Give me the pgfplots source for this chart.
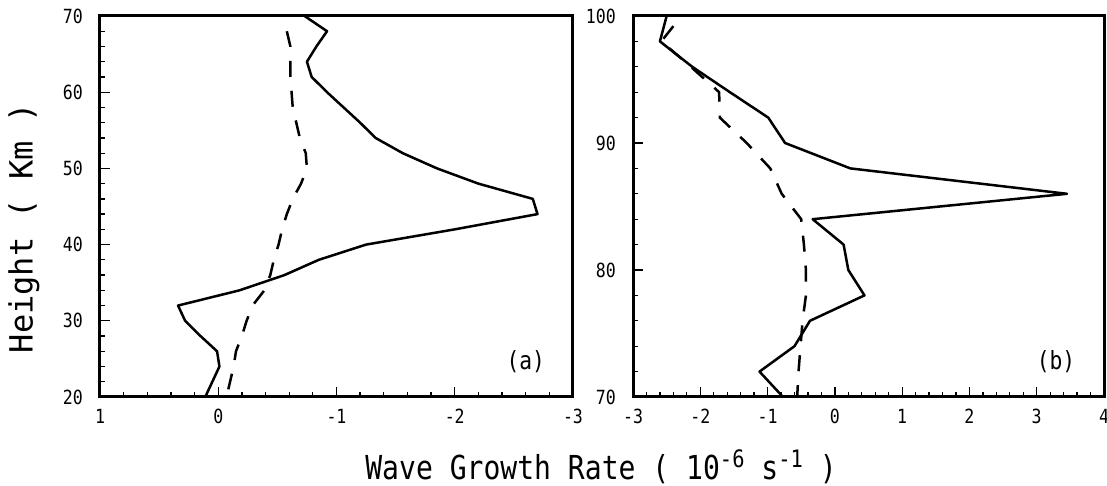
\documentclass[border=0pt]{standalone}
\usepackage{fontspec}
\setmainfont{DejaVu Sans Mono}[FakeStretch=0.85]
\newfontfamily\vfont{DejaVu Sans Mono}
\usepackage{pgfplots}
\pgfplotsset{compat=1.18}

\newcommand\supr[1]{\raisebox{12pt}{\fontsize{24}{24}\selectfont #1}}

\pgfplotsset{
  panel/.style={
    scale only axis, height=381pt,
    axis line style={line width=3pt},
    tick align=inside, xtick pos=bottom, ytick pos=left,
    major tick length=10pt, minor tick length=5pt,
    tick style={line width=1.3pt, black},
    minor tick num=4,
    /pgf/number format/assume math mode=true,
    ticklabel style={font=\fontsize{19.5}{19.5}\selectfont, inner sep=0pt},
    xticklabel style={anchor=north, yshift=-12pt},
    yticklabel style={anchor=east, xshift=-17pt},
  },
  solid line/.style={black, line width=2.5pt, no marks, line join=round},
  dash line/.style={black, line width=2.5pt, no marks, dash pattern=on 16pt off 14pt},
}

\begin{document}
\begin{tikzpicture}
\useasboundingbox (-100pt,-89pt) rectangle (1007pt,397pt);

% panel (a)
\begin{axis}[panel, at={(0,0)}, width=473pt,
  x dir=reverse, xmin=-3, xmax=1, ymin=20, ymax=70,
  xtick={-3,-2,-1,0,1}, ytick={20,30,40,50,60,70}]
\addplot[solid line] table {
X Y
-0.73 70
-0.92 68
-0.83 66
-0.75 64
-0.79 62
-0.92 60
-1.06 58
-1.20 56
-1.33 54
-1.56 52
-1.85 50
-2.20 48
-2.66 46
-2.70 44
-2.00 42
-1.25 40
-0.85 38
-0.56 36
-0.18 34
0.34 32
0.28 30
0.15 28
0.01 26
-0.01 24
0.05 22
0.11 20
};
\addplot[dash line] table {
X Y
-0.58 68
-0.61 66
-0.61 64
-0.61 62
-0.62 60
-0.63 58
-0.66 56
-0.69 54
-0.74 52
-0.75 50
-0.70 48
-0.63 46
-0.58 44
-0.54 42
-0.51 40
-0.47 38
-0.44 36
-0.39 34
-0.29 32
-0.24 30
-0.20 28
-0.15 26
-0.13 24
-0.10 22
-0.07 20
};
\node[font=\fontsize{25}{25}\selectfont] at (rel axis cs:0.90,0.094) {(a)};
\end{axis}

% panel (b)
\begin{axis}[panel, at={(533pt,0)}, width=471pt,
  xmin=-3, xmax=4, ymin=70, ymax=100,
  xtick={-3,-2,-1,0,1,2,3,4}, ytick={70,80,90,100}]
\addplot[solid line] table {
X Y
-2.50 100
-2.60 98
-2.12 96
-1.56 94
-0.99 92
-0.74 90
0.23 88
3.45 86
-0.33 84
0.13 82
0.20 80
0.44 78
-0.37 76
-0.60 74
-1.12 72
-0.77 70
};
\addplot[dash line] table {
X Y
-2.40 99.2
-2.58 98
-2.14 96
-1.72 94
-1.71 92
-1.31 90
-0.96 88
-0.79 86
-0.50 84
-0.46 82
-0.43 80
-0.43 78
-0.48 76
-0.51 74
-0.54 72
-0.56 70
};
\node[font=\fontsize{25}{25}\selectfont] at (rel axis cs:0.898,0.092) {(b)};
\end{axis}

\node[font=\fontsize{33}{33}\selectfont, anchor=base] at (501pt,-83pt)
  {Wave Growth Rate ( 10\supr{-6} s\supr{-1} )};
\node[rotate=90, font=\vfont\fontsize{32}{32}\selectfont] at (-76pt,169pt)
  {Height ( Km )};
\end{tikzpicture}
\end{document}
